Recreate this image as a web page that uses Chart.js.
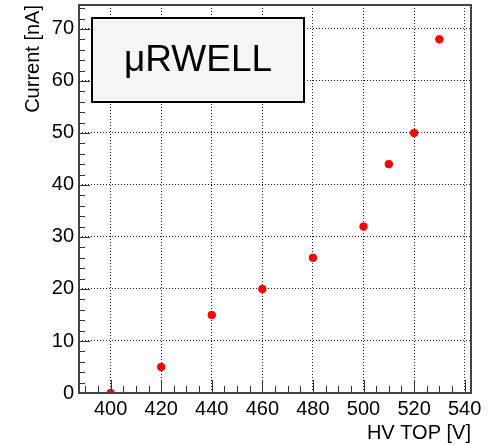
<!DOCTYPE html>
<html>
<head>
<meta charset="utf-8">
<script src="https://cdn.jsdelivr.net/npm/chart.js@4"></script>
<style>
  html, body { margin: 0; padding: 0; background: #fff; }
  #wrap { width: 494px; height: 445px; }
</style>
</head>
<body>
<div id="wrap"><canvas id="myChart" width="494" height="445"></canvas></div>
<script>
// data
const hvTop = [400, 420, 440, 460, 480, 500, 510, 520, 530];
const current = [0, 5, 15, 20, 26, 32, 44, 50, 68];
const xTicks = [400, 420, 440, 460, 480, 500, 520, 540];
const yTicks = [0, 10, 20, 30, 40, 50, 60, 70];
const boxLabel = 'μRWELL';

const font = 'Liberation Sans, Arial, sans-serif';

// ROOT style ticks inside the frame + frame + label box
const rootFrame = {
  id: 'rootFrame',
  afterDraw(chart) {
    const ctx = chart.ctx;
    const a = chart.chartArea;
    const xs = chart.scales.x, ys = chart.scales.y;
    ctx.save();
    ctx.strokeStyle = '#333';
    ctx.lineWidth = 1;
    // x ticks, minor every 5
    for (let v = 390; v <= 540; v += 5) {
      const px = Math.round(xs.getPixelForValue(v)) + 0.5;
      const len = v % 20 === 0 ? 13 : 7;
      ctx.beginPath();
      ctx.moveTo(px, a.bottom);
      ctx.lineTo(px, a.bottom - len);
      ctx.stroke();
    }
    // y ticks, minor every 2
    for (let v = 0; v <= 74; v += 2) {
      const py = Math.round(ys.getPixelForValue(v)) + 0.5;
      const len = v % 10 === 0 ? 11 : 6;
      ctx.beginPath();
      ctx.moveTo(a.left, py);
      ctx.lineTo(a.left + len, py);
      ctx.stroke();
    }
    // frame
    ctx.lineWidth = 2;
    ctx.strokeStyle = '#444';
    ctx.strokeRect(a.left, a.top, a.right - a.left, a.bottom - a.top);

    // label box
    const bx = 92, by = 18, bw = 212, bh = 84;
    ctx.fillStyle = '#f6f6f6';
    ctx.fillRect(bx, by, bw, bh);
    ctx.lineWidth = 2;
    ctx.strokeStyle = '#000';
    ctx.strokeRect(bx, by, bw, bh);
    ctx.fillStyle = '#000';
    ctx.font = '37px ' + font;
    ctx.textAlign = 'center';
    ctx.textBaseline = 'middle';
    ctx.fillText(boxLabel, bx + bw / 2, by + bh / 2 + 1);
    ctx.restore();
  }
};

const ctx = document.getElementById('myChart');

new Chart(ctx, {
  type: 'scatter',
  data: {
    datasets: [{
      data: hvTop.map((x, i) => ({ x: x, y: current[i] })),
      backgroundColor: '#ff0000',
      borderColor: '#ff0000',
      pointRadius: 3.8,
      pointHoverRadius: 3.8
    }]
  },
  options: {
    responsive: false,
    animation: false,
    layout: { padding: { top: 5, right: 23, left: 21, bottom: 0 } },
    plugins: { legend: { display: false }, tooltip: { enabled: false } },
    scales: {
      x: {
        type: 'linear',
        min: 387.5,
        max: 542.5,
        afterBuildTicks: s => { s.ticks = xTicks.map(v => ({ value: v })); },
        afterFit: s => { s.height = 52; s.paddingLeft = 0; s.paddingRight = 0; },
        grid: { color: '#222', lineWidth: 1, drawTicks: false },
        border: { display: false, dash: [1, 2] },
        ticks: { color: '#000', font: { family: font, size: 20 }, padding: 4, maxRotation: 0 },
        title: {
          display: true, text: 'HV TOP [V]', align: 'end', color: '#000',
          font: { family: font, size: 20 }, padding: { top: 0, bottom: 0 }
        }
      },
      y: {
        type: 'linear',
        min: 0,
        max: 74.6,
        afterBuildTicks: s => { s.ticks = yTicks.map(v => ({ value: v })); },
        afterFit: s => { s.width = 58; s.paddingTop = 0; s.paddingBottom = 0; },
        grid: { color: '#222', lineWidth: 1, drawTicks: false },
        border: { display: false, dash: [1, 2] },
        ticks: { color: '#000', font: { family: font, size: 20 }, padding: 5 },
        title: {
          display: true, text: 'Current [nA]', align: 'end', color: '#000',
          font: { family: font, size: 20 }, padding: { top: 0, bottom: 0 }
        }
      }
    }
  },
  plugins: [rootFrame]
});
</script>
</body>
</html>
